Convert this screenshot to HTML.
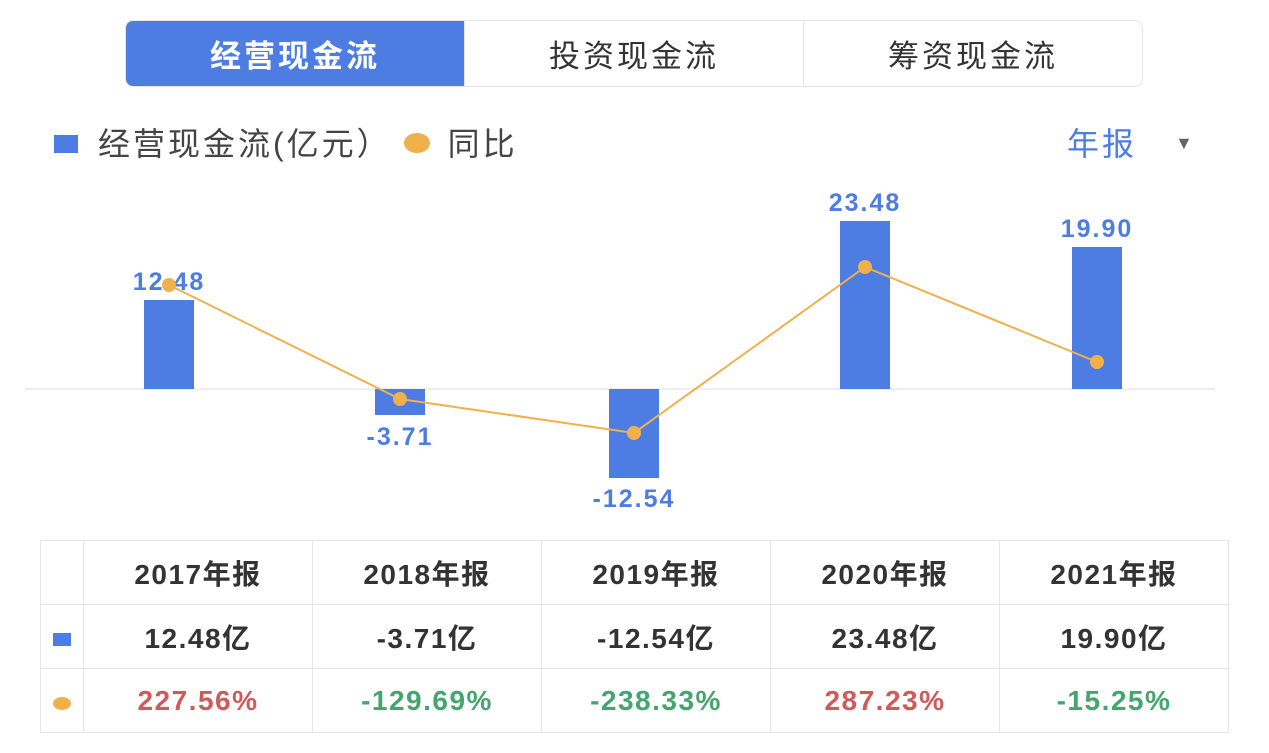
<!DOCTYPE html>
<html><head><meta charset="utf-8"><style>
body{margin:0;width:1269px;height:753px;background:#fff;overflow:hidden;font-family:"Liberation Sans","Noto Sans CJK SC",sans-serif;position:relative}
.tabs{position:absolute;left:125px;top:20px;width:1018px;height:67px;border:1px solid #e6e6e6;border-radius:8px;box-sizing:border-box;display:flex;overflow:hidden}
.tab{flex:1;display:flex;align-items:center;justify-content:center;font-size:31px;color:#333;letter-spacing:3px;border-left:1px solid #e6e6e6}
.tab.on{background:#4d7de3;color:#fff;border-left:none;font-weight:bold}
.leg{position:absolute;top:119px;font-size:32px;color:#444;letter-spacing:3px}
table{position:absolute;left:40px;top:540px;border-collapse:collapse;font-size:28px;color:#333;letter-spacing:1.5px;font-weight:bold}
td{border:1px solid #e6e6e6;height:63px;text-align:center;padding:0;width:228px}
td.f{width:42px}
.r{color:#d05a5a}.g{color:#45a56e}
</style></head><body>
<div class="tabs"><div class="tab on">经营现金流</div><div class="tab">投资现金流</div><div class="tab">筹资现金流</div></div>
<div class="leg" style="left:54px"><span style="display:inline-block;width:24px;height:18px;background:#4d7de3;margin-right:20px;vertical-align:2px"></span>经营现金流(亿元）<span style="display:inline-block;width:26px;height:20px;border-radius:50%;background:#f0b04a;margin:0 18px 0 12px;vertical-align:2px"></span>同比</div>
<div class="leg" style="left:1067px;color:#4d7de3">年报<span style="color:#666;font-size:18px;position:absolute;left:108px;top:14px">▼</span></div>
<svg width="1269" height="530" style="position:absolute;left:0;top:0" font-family="Liberation Sans,sans-serif">
<line x1="25" y1="389" x2="1215" y2="389" stroke="#e8e8e8" stroke-width="1.5"/>
<g fill="#4d7de3">
<rect x="144" y="300" width="50" height="89"/>
<rect x="375" y="389" width="50" height="26"/>
<rect x="609" y="389" width="50" height="89"/>
<rect x="840" y="221" width="50" height="168"/>
<rect x="1072" y="247" width="50" height="142"/>
</g>
<g font-size="25" font-weight="bold" fill="#4d7de3" text-anchor="middle" letter-spacing="2">
<text x="169" y="290">12.48</text>
<text x="400" y="445">-3.71</text>
<text x="634" y="507">-12.54</text>
<text x="865" y="211">23.48</text>
<text x="1097" y="237">19.90</text>
</g>
<polyline points="169,285 400,399 634,433 865,267 1097,362" fill="none" stroke="#f0b04a" stroke-width="2"/>
<g fill="#f0b04a">
<circle cx="169" cy="285" r="7"/><circle cx="400" cy="399" r="7"/><circle cx="634" cy="433" r="7"/><circle cx="865" cy="267" r="7"/><circle cx="1097" cy="362" r="7"/>
</g>
</svg>
<table>
<tr><td class="f"></td><td>2017年报</td><td>2018年报</td><td>2019年报</td><td>2020年报</td><td>2021年报</td></tr>
<tr><td class="f"><span style="display:inline-block;width:18px;height:13px;background:#4d7de3"></span></td><td>12.48亿</td><td>-3.71亿</td><td>-12.54亿</td><td>23.48亿</td><td>19.90亿</td></tr>
<tr><td class="f"><span style="display:inline-block;width:18px;height:13px;border-radius:50%;background:#f0b04a"></span></td><td class="r">227.56%</td><td class="g">-129.69%</td><td class="g">-238.33%</td><td class="r">287.23%</td><td class="g">-15.25%</td></tr>
</table>
</body></html>
